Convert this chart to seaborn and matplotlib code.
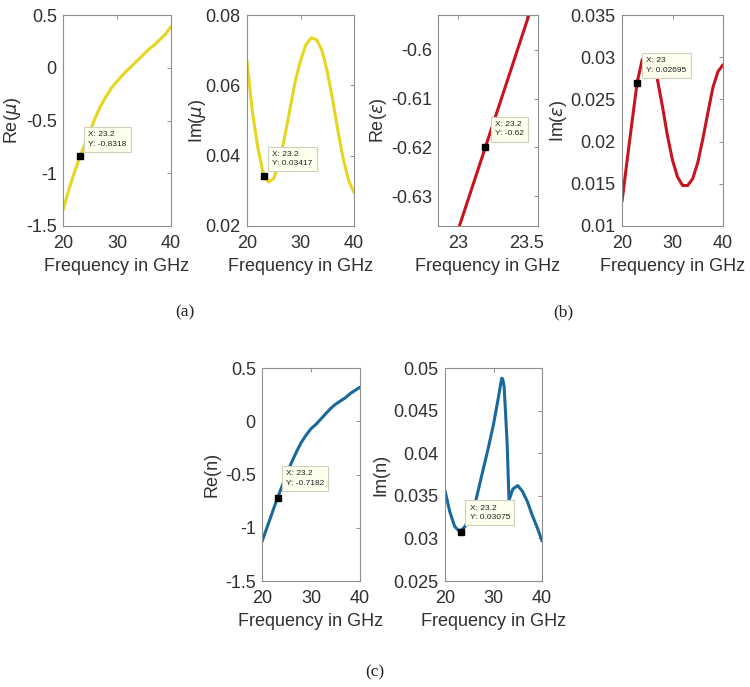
import numpy as np
import pandas as pd
import matplotlib
matplotlib.use("Agg")
import matplotlib.pyplot as plt
import seaborn as sns

# ---------------- data ----------------
freq = [20, 21, 22, 23, 24, 25, 26, 27, 28, 29, 30, 31, 32, 33, 34, 35, 36, 37, 38, 39, 40]

re_mu = [-1.35, -1.17, -1.01, -0.86, -0.73, -0.60, -0.47, -0.36, -0.27, -0.19, -0.13,
         -0.07, -0.02, 0.03, 0.08, 0.13, 0.18, 0.22, 0.27, 0.32, 0.39]
im_mu = [0.0670, 0.0525, 0.0425, 0.0352, 0.0325, 0.0335, 0.0380, 0.0450, 0.0530, 0.0610, 0.0670,
         0.0715, 0.0735, 0.0730, 0.0700, 0.0640, 0.0560, 0.0470, 0.0390, 0.0330, 0.0295]

freq_eps_zoom = [22.8, 23.0, 23.2, 23.4, 23.6]
re_eps = [-0.654, -0.637, -0.620, -0.603, -0.586]

im_eps = [0.0129, 0.0177, 0.0224, 0.0270, 0.0297, 0.0303, 0.0294, 0.0274, 0.0242, 0.0207, 0.0178,
          0.0158, 0.0148, 0.0148, 0.0156, 0.0175, 0.0203, 0.0234, 0.0264, 0.0283, 0.0291]

re_n = [-1.13, -1.00, -0.87, -0.74, -0.62, -0.50, -0.39, -0.29, -0.20, -0.13, -0.07,
        -0.03, 0.02, 0.07, 0.12, 0.16, 0.19, 0.22, 0.26, 0.29, 0.32]

freq_imn = [20, 21, 22, 23, 24, 25, 26, 27, 28, 29, 30, 31, 31.5, 31.7, 31.9, 32.2, 32.8, 33.2,
            34, 35, 36, 37, 38, 39, 40]
im_n = [0.0356, 0.0331, 0.0314, 0.0308, 0.0313, 0.0323, 0.0336, 0.0360, 0.0384, 0.0408, 0.0434,
        0.0465, 0.0482, 0.0488, 0.0487, 0.0478, 0.0413, 0.0345,
        0.0358, 0.0362, 0.0355, 0.0343, 0.0327, 0.0313, 0.0297]

# data tips: (x, y, label lines)
tips = {
    "re_mu": (23.2, -0.8318, "X: 23.2\nY: -0.8318"),
    "im_mu": (23.2, 0.03417, "X: 23.2\nY: 0.03417"),
    "re_eps": (23.2, -0.62, "X: 23.2\nY: -0.62"),
    "im_eps": (23.0, 0.02695, "X: 23\nY: 0.02695"),
    "re_n": (23.2, -0.7182, "X: 23.2\nY: -0.7182"),
    "im_n": (23.2, 0.03075, "X: 23.2\nY: 0.03075"),
}

captions = ["(a)", "(b)", "(c)"]

# ---------------- styling ----------------
sns.set_theme(style="white")
plt.rcParams["font.family"] = ["Liberation Sans", "DejaVu Sans"]
plt.rcParams["axes.unicode_minus"] = False
plt.rcParams["mathtext.fontset"] = "dejavusans"

YELLOW = "#E8D520"
RED = "#C8141E"
BLUE = "#1A699C"
SPINE = "#8E8E8E"
TXT = "#303030"
FS = 13

fig = plt.figure(figsize=(7.5, 6.87), dpi=100)
W, H = 750.0, 687.0

def make_ax(l, r, t, b):
    return fig.add_axes([l / W, 1 - b / H, (r - l) / W, (b - t) / H])

# axes box (left, right, top, bottom) and y-label right edge, in pixels
axes_px = {
    "re_mu": (63, 171, 15, 226, 23),
    "im_mu": (247, 354, 15, 226, 208),
    "re_eps": (438, 538, 15, 226, 389),
    "im_eps": (622, 723, 15, 226, 569),
    "re_n": (262, 360, 368, 581, 221),
    "im_n": (445, 542, 368, 581, 389),
}

specs = {
    "re_mu": dict(x=freq, y=re_mu, color=YELLOW, ylabel=r"Re($\mu$)",
                  xlim=(20, 40), ylim=(-1.5, 0.5), xt=[20, 30, 40],
                  yt=[-1.5, -1, -0.5, 0, 0.5], ytl=["-1.5", "-1", "-0.5", "0", "0.5"],
                  xtl=["20", "30", "40"], off=(3, 3)),
    "im_mu": dict(x=freq, y=im_mu, color=YELLOW, ylabel=r"Im($\mu$)",
                  xlim=(20, 40), ylim=(0.02, 0.08), xt=[20, 30, 40],
                  yt=[0.02, 0.04, 0.06, 0.08], ytl=["0.02", "0.04", "0.06", "0.08"],
                  xtl=["20", "30", "40"], off=(3, 4)),
    "re_eps": dict(x=freq_eps_zoom, y=re_eps, color=RED, ylabel=r"Re($\epsilon$)",
                   xlim=(22.854, 23.585), ylim=(-0.6361, -0.5929), xt=[23, 23.5],
                   yt=[-0.63, -0.62, -0.61, -0.60], ytl=["-0.63", "-0.62", "-0.61", "-0.6"],
                   xtl=["23", "23.5"], off=(5, 5)),
    "im_eps": dict(x=freq, y=im_eps, color=RED, ylabel=r"Im($\epsilon$)",
                   xlim=(20, 40), ylim=(0.01, 0.035), xt=[20, 30, 40],
                   yt=[0.01, 0.015, 0.02, 0.025, 0.03, 0.035],
                   ytl=["0.01", "0.015", "0.02", "0.025", "0.03", "0.035"],
                   xtl=["20", "30", "40"], off=(4, 4)),
    "re_n": dict(x=freq, y=re_n, color=BLUE, ylabel="Re(n)",
                 xlim=(20, 40), ylim=(-1.5, 0.5), xt=[20, 30, 40],
                 yt=[-1.5, -1, -0.5, 0, 0.5], ytl=["-1.5", "-1", "-0.5", "0", "0.5"],
                 xtl=["20", "30", "40"], off=(3, 6)),
    "im_n": dict(x=freq_imn, y=im_n, color=BLUE, ylabel="Im(n)",
                 xlim=(20, 40), ylim=(0.025, 0.05), xt=[20, 30, 40],
                 yt=[0.025, 0.03, 0.035, 0.04, 0.045, 0.05],
                 ytl=["0.025", "0.03", "0.035", "0.04", "0.045", "0.05"],
                 xtl=["20", "30", "40"], off=(4, 6)),
}

for key, s in specs.items():
    l, r, t, b, lab_right = axes_px[key]
    ax = make_ax(l, r, t, b)
    df = pd.DataFrame({"f": s["x"], "v": s["y"]})
    sns.lineplot(data=df, x="f", y="v", ax=ax, color=s["color"], lw=2.2,
                 sort=False, estimator=None)
    for ln in ax.get_lines():
        ln.set_solid_joinstyle("round")
        ln.set_solid_capstyle("round")
    ax.set_xlim(*s["xlim"])
    ax.set_ylim(*s["ylim"])
    ax.set_xticks(s["xt"])
    ax.set_xticklabels(s["xtl"])
    ax.set_yticks(s["yt"])
    ax.set_yticklabels(s["ytl"])
    ax.set_xlabel("Frequency in GHz", fontsize=FS, color=TXT, labelpad=4)
    ax.set_ylabel(s["ylabel"], fontsize=FS, color=TXT)
    ax.yaxis.set_label_coords((lab_right - l) / (r - l), 0.5)
    ax.tick_params(axis="both", direction="in", length=3, width=0.7, color=SPINE,
                   labelsize=FS, labelcolor=TXT, top=True, right=True)
    ax.tick_params(axis="x", pad=6.5)
    ax.tick_params(axis="y", pad=4.5)
    for sp in ax.spines.values():
        sp.set_color(SPINE)
        sp.set_linewidth(0.8)
        sp.set_visible(True)
    ax.grid(False)

    tx, ty, tlabel = tips[key]
    ax.plot([tx], [ty], marker="s", ms=5, color="black", ls="none", zorder=5)
    dx, dy = s["off"]
    ax.annotate(tlabel, xy=(tx, ty), xytext=(dx + 5, dy + 5), textcoords="offset pixels",
                ha="left", va="bottom", fontsize=6.0, color="#222222", linespacing=1.5,
                bbox=dict(boxstyle="square,pad=0.5", fc="#FFFFEE", ec="#D0D0C0", lw=0.8),
                zorder=6, annotation_clip=False)

serif = ["Liberation Serif", "DejaVu Serif"]
fig.text(185 / W, 1 - 312 / H, captions[0], ha="center", va="center", fontsize=12.5,
         family=serif, color="#222222")
fig.text(563 / W, 1 - 312 / H, captions[1], ha="center", va="center", fontsize=12.5,
         family=serif, color="#222222")
fig.text(375 / W, 1 - 672 / H, captions[2], ha="center", va="center", fontsize=12.5,
         family=serif, color="#222222")

fig.savefig("out.png", dpi=100, facecolor="white")
